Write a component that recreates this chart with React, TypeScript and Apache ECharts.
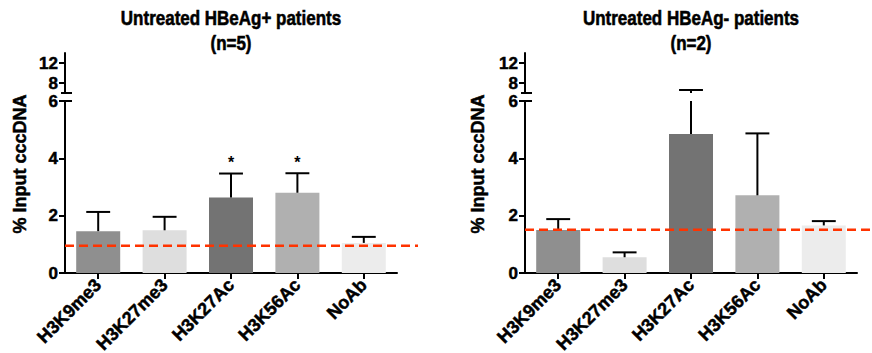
import React, { useEffect, useRef } from "react";
import * as echarts from "echarts";

const categories = ["H3K9me3", "H3K27me3", "H3K27Ac", "H3K56Ac", "NoAb"];
const barColors = ["#8f8f8f", "#dedede", "#737373", "#b0b0b0", "#ececec"];

// HBeAg+ (n=5)
const posMeans = [1.46, 1.49, 2.63, 2.8, 1.05];
const posSD = [0.67, 0.47, 0.84, 0.68, 0.21];
const posMarks = ["", "", "*", "*", ""];
const posThreshold = 0.95;

// HBeAg- (n=2)
const negMeans = [1.5, 0.55, 4.85, 2.71, 1.66];
const negSD = [0.38, 0.17, 1.75, 2.16, 0.15];
const negMarks = ["", "", "", "", ""];
const negThreshold = 1.51;

const lowerTicks = [0, 2, 4, 6];
const upperTicks = [8, 12];
const lowerMax = 6;
const upperMax = 14;

const titleLines = [
  ["Untreated HBeAg+ patients", "(n=5)"],
  ["Untreated HBeAg- patients", "(n=2)"],
];
const yName = "% Input cccDNA";

const FONT = "'Liberation Sans', Arial, Helvetica, sans-serif";

export default function App() {
  const ref = useRef<HTMLDivElement>(null);

  useEffect(() => {
    document.body.style.margin = "0";
    const chart = echarts.init(ref.current!, null, { renderer: "svg" });

    const panels = [
      { x: 65, means: posMeans, sd: posSD, marks: posMarks, thr: posThreshold, title: titleLines[0], nameX: 20 },
      { x: 525, means: negMeans, sd: negSD, marks: negMarks, thr: negThreshold, title: titleLines[1], nameX: 478 },
    ];
    const W = 332;
    const upperTop = 53, upperH = 40, lowerTop = 101, lowerH = 172;

    const grid: any[] = [];
    const xAxis: any[] = [];
    const yAxis: any[] = [];
    const series: any[] = [];
    const graphic: any[] = [];

    const axisLineStyle = { color: "#000", width: 2 };
    const heavy = { textBorderColor: "#000", textBorderWidth: 0.5 };
    const heavyG = { stroke: "#000", lineWidth: 0.5 };
    const labelStyle = { color: "#000", fontWeight: "bold", fontSize: 17, fontFamily: FONT, ...heavy };

    panels.forEach((p, k) => {
      const gl = k * 2; // lower grid index
      const gu = k * 2 + 1; // upper grid index
      grid.push({ left: p.x, top: lowerTop, width: W, height: lowerH, outerBoundsMode: "none", containLabel: false });
      grid.push({ left: p.x, top: upperTop, width: W, height: upperH, outerBoundsMode: "none", containLabel: false });

      xAxis.push({
        type: "category",
        gridIndex: gl,
        data: categories,
        axisLine: { lineStyle: axisLineStyle },
        axisTick: { show: true, alignWithLabel: true, length: 6, lineStyle: axisLineStyle },
        axisLabel: { ...labelStyle, fontSize: 18, rotate: 45, margin: 9, interval: 0 },
      });
      xAxis.push({ type: "category", gridIndex: gu, data: categories, show: false });

      yAxis.push({
        type: "value",
        gridIndex: gl,
        min: 0,
        max: lowerMax,
        interval: 2,
        splitLine: { show: false },
        axisLine: { show: true, lineStyle: axisLineStyle },
        axisTick: { show: true, length: 6, lineStyle: axisLineStyle, customValues: lowerTicks },
        axisLabel: { ...labelStyle, lineHeight: 13, margin: 7, customValues: lowerTicks },
      });
      yAxis.push({
        type: "value",
        gridIndex: gu,
        min: 6,
        max: upperMax,
        splitLine: { show: false },
        axisLine: { show: true, lineStyle: axisLineStyle },
        axisTick: { show: true, length: 6, lineStyle: axisLineStyle, customValues: upperTicks },
        axisLabel: { ...labelStyle, lineHeight: 13, margin: 7, customValues: upperTicks },
      });

      series.push({
        type: "bar",
        xAxisIndex: gl,
        yAxisIndex: gl,
        barWidth: 44,
        z: 2,
        data: p.means.map((v, i) => ({ value: v, itemStyle: { color: barColors[i] } })),
      });

      const errData = p.means.map((m, i) => [i, m, m + p.sd[i]]);
      const marks = p.marks;

      // error bars, lower segment
      series.push({
        type: "custom",
        xAxisIndex: gl,
        yAxisIndex: gl,
        z: 4,
        data: errData,
        renderItem: (params: any, api: any) => {
          const i = api.value(0), m = api.value(1), t = api.value(2);
          const hi = Math.min(t, lowerMax);
          const p0 = api.coord([i, m]);
          const p1 = api.coord([i, hi]);
          const hw = api.size([1, 0])[0] * 0.18;
          const style = { stroke: "#000", lineWidth: 2 };
          const children: any[] = [
            { type: "line", shape: { x1: p0[0], y1: p0[1], x2: p1[0], y2: p1[1] }, style },
          ];
          if (t <= lowerMax) {
            children.push({ type: "line", shape: { x1: p1[0] - hw, y1: p1[1], x2: p1[0] + hw, y2: p1[1] }, style });
            const mk = marks[params.dataIndex];
            if (mk) {
              children.push({
                type: "text",
                x: p1[0],
                y: p1[1] - 11,
                style: { text: mk, fill: "#000", fontSize: 16, fontWeight: "bold", fontFamily: FONT, align: "center", verticalAlign: "middle" },
              });
            }
          }
          return { type: "group", children };
        },
      });

      // error bars, upper segment
      series.push({
        type: "custom",
        xAxisIndex: gu,
        yAxisIndex: gu,
        z: 4,
        data: errData,
        renderItem: (params: any, api: any) => {
          const i = api.value(0), t = api.value(2);
          if (t <= lowerMax) return { type: "group", children: [] };
          const p0 = api.coord([i, lowerMax]);
          const p1 = api.coord([i, t]);
          const hw = api.size([1, 0])[0] * 0.18;
          const style = { stroke: "#000", lineWidth: 2 };
          return {
            type: "group",
            children: [
              { type: "line", shape: { x1: p0[0], y1: p0[1], x2: p1[0], y2: p1[1] }, style },
              { type: "line", shape: { x1: p1[0] - hw, y1: p1[1], x2: p1[0] + hw, y2: p1[1] }, style },
            ],
          };
        },
      });

      // red dashed threshold line
      series.push({
        type: "custom",
        xAxisIndex: gl,
        yAxisIndex: gl,
        z: 5,
        clip: false,
        data: [[0, p.thr]],
        renderItem: (params: any, api: any) => {
          const y = api.coord([0, api.value(1)])[1];
          const cs = params.coordSys;
          return {
            type: "line",
            shape: { x1: cs.x, y1: y, x2: cs.x + cs.width + 21, y2: y },
            style: { stroke: "#ff3300", lineWidth: 2.5, lineDash: [9, 5] },
          };
        },
      });

      // titles (two lines)
      p.title.forEach((line, j) => {
        graphic.push({
          type: "text",
          x: p.x + W / 2,
          y: 18 + j * 25,
          scaleY: 1.15,
          style: { text: line, fill: "#000", fontSize: 17, fontWeight: "bold", fontFamily: FONT, align: "center", verticalAlign: "middle", ...heavyG },
        });
      });

      graphic.push({
        type: "text",
        x: p.nameX,
        y: (upperTop + lowerTop + lowerH) / 2 + 1,
        rotation: Math.PI / 2,
        style: { text: yName, fill: "#000", fontSize: 18, fontWeight: "bold", fontFamily: FONT, align: "center", verticalAlign: "middle", ...heavyG },
      });

      // axis break marks
      [upperTop + upperH, lowerTop].forEach((y) => {
        graphic.push({
          type: "line",
          shape: { x1: p.x - 4, y1: y, x2: p.x + 7, y2: y },
          style: { stroke: "#000", lineWidth: 2 },
        });
      });
    });

    chart.setOption({
      animation: false,
      backgroundColor: "#fff",
      grid,
      xAxis,
      yAxis,
      series,
      graphic,
    });

    return () => chart.dispose();
  }, []);

  return <div ref={ref} style={{ width: 872, height: 353 }} />;
}
